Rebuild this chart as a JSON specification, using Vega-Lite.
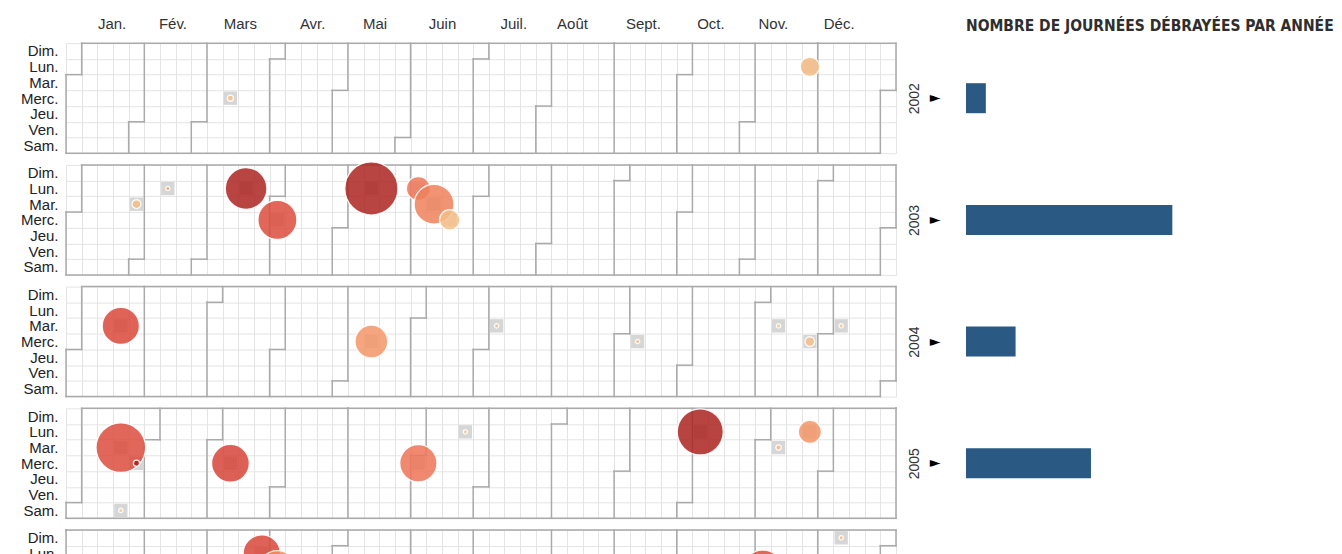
{
  "$schema": "https://vega.github.io/schema/vega-lite/v6.json",
  "background": "white",
  "padding": {"left": 20, "top": 16.2, "right": 5, "bottom": 0},
  "config": {"view": {"stroke": null}, "font": "Liberation Sans"},
  "datasets": {
    "journees": [
      {"annee": 2002, "journees": 4},
      {"annee": 2003, "journees": 41.6},
      {"annee": 2004, "journees": 10},
      {"annee": 2005, "journees": 25.2}
    ],
    "etiquettes_mois": [
      {"mois": "Jan.", "semaine": 2.94},
      {"mois": "Fév.", "semaine": 6.83},
      {"mois": "Mars", "semaine": 11.14},
      {"mois": "Avr.", "semaine": 15.75},
      {"mois": "Mai", "semaine": 19.73},
      {"mois": "Juin", "semaine": 24.04},
      {"mois": "Juil.", "semaine": 28.59},
      {"mois": "Août", "semaine": 32.34},
      {"mois": "Sept.", "semaine": 36.87},
      {"mois": "Oct.", "semaine": 41.18},
      {"mois": "Nov.", "semaine": 45.17},
      {"mois": "Déc.", "semaine": 49.37}
    ],
    "bords": [
      {"annee": 2002, "debut": 1, "fin_haut": 53, "fin_bas": 52},
      {"annee": 2003, "debut": 1, "fin_haut": 53, "fin_bas": 52},
      {"annee": 2004, "debut": 1, "fin_haut": 53, "fin_bas": 52},
      {"annee": 2005, "debut": 1, "fin_haut": 53, "fin_bas": 53},
      {"annee": 2006, "debut": 0, "fin_haut": 53, "fin_bas": 52}
    ],
    "mois_debut": [
      {"annee": 2002, "mois": 1, "col_bas": 0, "col_haut": 1, "jour": 2},
      {"annee": 2002, "mois": 2, "col_bas": 4, "col_haut": 5, "jour": 5},
      {"annee": 2002, "mois": 3, "col_bas": 8, "col_haut": 9, "jour": 5},
      {"annee": 2002, "mois": 4, "col_bas": 13, "col_haut": 14, "jour": 1},
      {"annee": 2002, "mois": 5, "col_bas": 17, "col_haut": 18, "jour": 3},
      {"annee": 2002, "mois": 6, "col_bas": 21, "col_haut": 22, "jour": 6},
      {"annee": 2002, "mois": 7, "col_bas": 26, "col_haut": 27, "jour": 1},
      {"annee": 2002, "mois": 8, "col_bas": 30, "col_haut": 31, "jour": 4},
      {"annee": 2002, "mois": 9, "col_bas": 35, "col_haut": 35, "jour": 0},
      {"annee": 2002, "mois": 10, "col_bas": 39, "col_haut": 40, "jour": 2},
      {"annee": 2002, "mois": 11, "col_bas": 43, "col_haut": 44, "jour": 5},
      {"annee": 2002, "mois": 12, "col_bas": 48, "col_haut": 48, "jour": 0},
      {"annee": 2002, "mois": 13, "col_bas": 52, "col_haut": 53, "jour": 3},
      {"annee": 2003, "mois": 1, "col_bas": 0, "col_haut": 1, "jour": 3},
      {"annee": 2003, "mois": 2, "col_bas": 4, "col_haut": 5, "jour": 6},
      {"annee": 2003, "mois": 3, "col_bas": 8, "col_haut": 9, "jour": 6},
      {"annee": 2003, "mois": 4, "col_bas": 13, "col_haut": 14, "jour": 2},
      {"annee": 2003, "mois": 5, "col_bas": 17, "col_haut": 18, "jour": 4},
      {"annee": 2003, "mois": 6, "col_bas": 22, "col_haut": 22, "jour": 0},
      {"annee": 2003, "mois": 7, "col_bas": 26, "col_haut": 27, "jour": 2},
      {"annee": 2003, "mois": 8, "col_bas": 30, "col_haut": 31, "jour": 5},
      {"annee": 2003, "mois": 9, "col_bas": 35, "col_haut": 36, "jour": 1},
      {"annee": 2003, "mois": 10, "col_bas": 39, "col_haut": 40, "jour": 3},
      {"annee": 2003, "mois": 11, "col_bas": 43, "col_haut": 44, "jour": 6},
      {"annee": 2003, "mois": 12, "col_bas": 48, "col_haut": 49, "jour": 1},
      {"annee": 2003, "mois": 13, "col_bas": 52, "col_haut": 53, "jour": 4},
      {"annee": 2004, "mois": 1, "col_bas": 0, "col_haut": 1, "jour": 4},
      {"annee": 2004, "mois": 2, "col_bas": 5, "col_haut": 5, "jour": 0},
      {"annee": 2004, "mois": 3, "col_bas": 9, "col_haut": 10, "jour": 1},
      {"annee": 2004, "mois": 4, "col_bas": 13, "col_haut": 14, "jour": 4},
      {"annee": 2004, "mois": 5, "col_bas": 17, "col_haut": 18, "jour": 6},
      {"annee": 2004, "mois": 6, "col_bas": 22, "col_haut": 23, "jour": 2},
      {"annee": 2004, "mois": 7, "col_bas": 26, "col_haut": 27, "jour": 4},
      {"annee": 2004, "mois": 8, "col_bas": 31, "col_haut": 31, "jour": 0},
      {"annee": 2004, "mois": 9, "col_bas": 35, "col_haut": 36, "jour": 3},
      {"annee": 2004, "mois": 10, "col_bas": 39, "col_haut": 40, "jour": 5},
      {"annee": 2004, "mois": 11, "col_bas": 44, "col_haut": 45, "jour": 1},
      {"annee": 2004, "mois": 12, "col_bas": 48, "col_haut": 49, "jour": 3},
      {"annee": 2004, "mois": 13, "col_bas": 52, "col_haut": 53, "jour": 6},
      {"annee": 2005, "mois": 1, "col_bas": 0, "col_haut": 1, "jour": 6},
      {"annee": 2005, "mois": 2, "col_bas": 5, "col_haut": 6, "jour": 2},
      {"annee": 2005, "mois": 3, "col_bas": 9, "col_haut": 10, "jour": 2},
      {"annee": 2005, "mois": 4, "col_bas": 13, "col_haut": 14, "jour": 5},
      {"annee": 2005, "mois": 5, "col_bas": 18, "col_haut": 18, "jour": 0},
      {"annee": 2005, "mois": 6, "col_bas": 22, "col_haut": 23, "jour": 3},
      {"annee": 2005, "mois": 7, "col_bas": 26, "col_haut": 27, "jour": 5},
      {"annee": 2005, "mois": 8, "col_bas": 31, "col_haut": 32, "jour": 1},
      {"annee": 2005, "mois": 9, "col_bas": 35, "col_haut": 36, "jour": 4},
      {"annee": 2005, "mois": 10, "col_bas": 39, "col_haut": 40, "jour": 6},
      {"annee": 2005, "mois": 11, "col_bas": 44, "col_haut": 45, "jour": 2},
      {"annee": 2005, "mois": 12, "col_bas": 48, "col_haut": 49, "jour": 4},
      {"annee": 2005, "mois": 13, "col_bas": 53, "col_haut": 53, "jour": 0},
      {"annee": 2006, "mois": 1, "col_bas": 0, "col_haut": 0, "jour": 0},
      {"annee": 2006, "mois": 2, "col_bas": 4, "col_haut": 5, "jour": 3},
      {"annee": 2006, "mois": 3, "col_bas": 8, "col_haut": 9, "jour": 3},
      {"annee": 2006, "mois": 4, "col_bas": 12, "col_haut": 13, "jour": 6},
      {"annee": 2006, "mois": 5, "col_bas": 17, "col_haut": 18, "jour": 1},
      {"annee": 2006, "mois": 6, "col_bas": 21, "col_haut": 22, "jour": 4},
      {"annee": 2006, "mois": 7, "col_bas": 25, "col_haut": 26, "jour": 6},
      {"annee": 2006, "mois": 8, "col_bas": 30, "col_haut": 31, "jour": 2},
      {"annee": 2006, "mois": 9, "col_bas": 34, "col_haut": 35, "jour": 5},
      {"annee": 2006, "mois": 10, "col_bas": 39, "col_haut": 39, "jour": 0},
      {"annee": 2006, "mois": 11, "col_bas": 43, "col_haut": 44, "jour": 3},
      {"annee": 2006, "mois": 12, "col_bas": 47, "col_haut": 48, "jour": 5},
      {"annee": 2006, "mois": 13, "col_bas": 52, "col_haut": 53, "jour": 1}
    ],
    "greves": [
      {"annee": 2002, "date": "2002-03-13", "semaine": 10, "jour": 3, "ampleur": 12, "intensite": 5},
      {"annee": 2002, "date": "2002-11-25", "semaine": 47, "jour": 1, "ampleur": 121, "intensite": 8},
      {"annee": 2003, "date": "2003-01-28", "semaine": 4, "jour": 2, "ampleur": 25, "intensite": 8},
      {"annee": 2003, "date": "2003-02-10", "semaine": 6, "jour": 1, "ampleur": 5, "intensite": 30},
      {"annee": 2003, "date": "2003-03-17", "semaine": 11, "jour": 1, "ampleur": 552, "intensite": 96},
      {"annee": 2003, "date": "2003-04-02", "semaine": 13, "jour": 3, "ampleur": 484, "intensite": 72},
      {"annee": 2003, "date": "2003-05-12", "semaine": 19, "jour": 1, "ampleur": 900, "intensite": 96},
      {"annee": 2003, "date": "2003-06-02", "semaine": 22, "jour": 1, "ampleur": 182, "intensite": 48},
      {"annee": 2003, "date": "2003-06-10", "semaine": 23, "jour": 2, "ampleur": 506, "intensite": 42},
      {"annee": 2003, "date": "2003-06-18", "semaine": 24, "jour": 3, "ampleur": 132, "intensite": 6},
      {"annee": 2004, "date": "2004-01-20", "semaine": 3, "jour": 2, "ampleur": 441, "intensite": 74},
      {"annee": 2004, "date": "2004-05-12", "semaine": 19, "jour": 3, "ampleur": 342, "intensite": 27},
      {"annee": 2004, "date": "2004-07-06", "semaine": 27, "jour": 2, "ampleur": 6, "intensite": 5},
      {"annee": 2004, "date": "2004-09-08", "semaine": 36, "jour": 3, "ampleur": 6, "intensite": 5},
      {"annee": 2004, "date": "2004-11-09", "semaine": 45, "jour": 2, "ampleur": 6, "intensite": 0},
      {"annee": 2004, "date": "2004-11-24", "semaine": 47, "jour": 3, "ampleur": 30, "intensite": 6},
      {"annee": 2004, "date": "2004-12-07", "semaine": 49, "jour": 2, "ampleur": 6, "intensite": 0},
      {"annee": 2005, "date": "2005-01-18", "semaine": 3, "jour": 2, "ampleur": 784, "intensite": 72},
      {"annee": 2005, "date": "2005-01-22", "semaine": 3, "jour": 6, "ampleur": 6, "intensite": 0},
      {"annee": 2005, "date": "2005-01-26", "semaine": 4, "jour": 3, "ampleur": 12, "intensite": 100},
      {"annee": 2005, "date": "2005-03-09", "semaine": 10, "jour": 3, "ampleur": 454, "intensite": 76},
      {"annee": 2005, "date": "2005-06-01", "semaine": 22, "jour": 3, "ampleur": 441, "intensite": 50},
      {"annee": 2005, "date": "2005-06-20", "semaine": 25, "jour": 1, "ampleur": 6, "intensite": 0},
      {"annee": 2005, "date": "2005-10-03", "semaine": 40, "jour": 1, "ampleur": 676, "intensite": 97},
      {"annee": 2005, "date": "2005-11-08", "semaine": 45, "jour": 2, "ampleur": 9, "intensite": 8},
      {"annee": 2005, "date": "2005-11-21", "semaine": 47, "jour": 1, "ampleur": 169, "intensite": 28},
      {"annee": 2006, "date": "2006-03-27", "semaine": 12, "jour": 1, "ampleur": 441, "intensite": 75},
      {"annee": 2006, "date": "2006-04-04", "semaine": 13, "jour": 2, "ampleur": 441, "intensite": 33},
      {"annee": 2006, "date": "2006-11-07", "semaine": 44, "jour": 2, "ampleur": 471, "intensite": 72},
      {"annee": 2006, "date": "2006-12-10", "semaine": 49, "jour": 0, "ampleur": 6, "intensite": 6}
    ]
  },
  "columns": 2,
  "bounds": "flush",
  "align": "each",
  "spacing": {"row": 11.7, "column": 70},
  "concat": [
    {
      "width": 830, "height": 110,
      "resolve": {"scale": {"x": "independent", "y": "independent"}},
      "layer": [
        {
          "data": {"name": "greves"},
          "transform": [{"filter": "datum.annee == 2002"}],
          "mark": {"type": "rect", "color": "#d6d6d6"},
          "encoding": {
            "x": {"field": "semaine", "type": "ordinal", "scale": {"domain": [0,1,2,3,4,5,6,7,8,9,10,11,12,13,14,15,16,17,18,19,20,21,22,23,24,25,26,27,28,29,30,31,32,33,34,35,36,37,38,39,40,41,42,43,44,45,46,47,48,49,50,51,52], "paddingInner": 0.15, "paddingOuter": 0.075}, "axis": null},
            "y": {"field": "jour", "type": "ordinal", "scale": {"domain": [0,1,2,3,4,5,6], "paddingInner": 0.15, "paddingOuter": 0.075}, "axis": null}
          }
        },
        {
          "layer": [
            {
              "data": {"name": "mois_debut"},
              "transform": [{"filter": "datum.annee == 2002"}],
              "mark": {"type": "rule", "color": "#aaaaaa", "strokeWidth": 1.5, "strokeCap": "square"},
              "encoding": {
                "x": {"field": "col_bas", "type": "quantitative", "scale": {"domain": [0, 53], "nice": false, "zero": false}, "axis": {"title": null, "grid": true, "gridColor": "#e4e4e4", "tickCount": 53, "labels": false, "ticks": false, "domain": false}},
                "y": {"field": "jour", "type": "quantitative", "scale": {"domain": [0, 7], "nice": false, "reverse": true}, "axis": {"title": null, "grid": true, "gridColor": "#e4e4e4", "tickCount": 7, "ticks": false, "domain": false, "labelExpr": "datum.value < 7 ? ['Dim.','Lun.','Mar.','Merc.','Jeu.','Ven.','Sam.'][datum.value] : ''", "labelOffset": 7.8, "labelPadding": 8, "labelFontSize": 15, "labelColor": "#222", "labelOverlap": false, "labelFlush": false, "labelBound": false, "labelBaseline": "middle"}},
                "y2": {"datum": 7}
              }
            },
            {
              "data": {"name": "mois_debut"},
              "transform": [{"filter": "datum.annee == 2002"}],
              "mark": {"type": "rule", "color": "#aaaaaa", "strokeWidth": 1.5, "strokeCap": "square"},
              "encoding": {"x": {"field": "col_bas", "type": "quantitative"}, "x2": {"field": "col_haut"}, "y": {"field": "jour", "type": "quantitative"}}
            },
            {
              "data": {"name": "mois_debut"},
              "transform": [{"filter": "datum.annee == 2002"}],
              "mark": {"type": "rule", "color": "#aaaaaa", "strokeWidth": 1.5, "strokeCap": "square"},
              "encoding": {"x": {"field": "col_haut", "type": "quantitative"}, "y": {"field": "jour", "type": "quantitative"}, "y2": {"datum": 0}}
            },
            {
              "data": {"name": "bords"},
              "transform": [{"filter": "datum.annee == 2002"}],
              "mark": {"type": "rule", "color": "#aaaaaa", "strokeWidth": 1.5, "strokeCap": "square"},
              "encoding": {"x": {"field": "debut", "type": "quantitative"}, "x2": {"field": "fin_haut"}, "y": {"datum": 0}}
            },
            {
              "data": {"name": "bords"},
              "transform": [{"filter": "datum.annee == 2002"}],
              "mark": {"type": "rule", "color": "#aaaaaa", "strokeWidth": 1.5, "strokeCap": "square"},
              "encoding": {"x": {"field": "fin_bas", "type": "quantitative"}, "x2": {"datum": 0}, "y": {"datum": 7}}
            },
            {
              "data": {"name": "etiquettes_mois"},
              "mark": {"type": "text", "fontSize": 15, "color": "#333", "align": "center", "baseline": "middle"},
              "encoding": {
                "x": {"field": "semaine", "type": "quantitative"},
                "y": {"datum": -1.22},
                "text": {"field": "mois"}
              }
            }
          ]
        },
        {
          "data": {"name": "greves"},
          "transform": [{"filter": "datum.annee == 2002"}],
          "mark": {"type": "point", "shape": "circle", "filled": true, "stroke": "white", "strokeWidth": 1.3, "fillOpacity": 0.85, "strokeOpacity": 0.9},
          "encoding": {
            "x": {"field": "semaine", "type": "ordinal", "scale": {"domain": [0,1,2,3,4,5,6,7,8,9,10,11,12,13,14,15,16,17,18,19,20,21,22,23,24,25,26,27,28,29,30,31,32,33,34,35,36,37,38,39,40,41,42,43,44,45,46,47,48,49,50,51,52], "paddingInner": 0.15, "paddingOuter": 0.075}, "axis": null},
            "y": {"field": "jour", "type": "ordinal", "scale": {"domain": [0,1,2,3,4,5,6], "paddingInner": 0.15, "paddingOuter": 0.075}, "axis": null},
            "size": {"field": "ampleur", "type": "quantitative", "scale": {"domain": [0, 1000], "range": [0, 3141.6]}, "legend": null},
            "color": {"field": "intensite", "type": "quantitative", "scale": {"domain": [0, 25, 50, 75, 100], "range": ["#f8cd95", "#f49a6b", "#ed7457", "#d9463a", "#a51e1e"]}, "legend": null}
          }
        }
      ]
    },
    {
      "width": 372, "height": 110,
      "data": {"name": "journees"},
      "transform": [{"filter": "datum.annee == 2002"}],
      "title": {"text": "NOMBRE DE JOURNÉES DÉBRAYÉES PAR ANNÉE", "anchor": "start", "frame": "group", "font": "DejaVu Sans Condensed", "fontSize": 15.5, "fontWeight": "bold", "color": "#2e2e2e", "offset": 9},
      "mark": {"type": "bar", "color": "#2a5a83", "height": 30},
      "encoding": {
        "y": {"field": "annee", "type": "nominal", "axis": {"title": "2002", "titleFontSize": 14, "titleFontWeight": "normal", "titleColor": "#333", "titlePadding": 8, "labelExpr": "'►'", "labelFont": "DejaVu Sans", "labelFontSize": 14, "labelColor": "#000", "labelPadding": 26, "ticks": false, "domain": false}},
        "x": {"field": "journees", "type": "quantitative", "scale": {"domain": [0, 75]}, "axis": null}
      }
    },
    {
      "width": 830, "height": 110,
      "resolve": {"scale": {"x": "independent", "y": "independent"}},
      "layer": [
        {
          "data": {"name": "greves"},
          "transform": [{"filter": "datum.annee == 2003"}],
          "mark": {"type": "rect", "color": "#d6d6d6"},
          "encoding": {
            "x": {"field": "semaine", "type": "ordinal", "scale": {"domain": [0,1,2,3,4,5,6,7,8,9,10,11,12,13,14,15,16,17,18,19,20,21,22,23,24,25,26,27,28,29,30,31,32,33,34,35,36,37,38,39,40,41,42,43,44,45,46,47,48,49,50,51,52], "paddingInner": 0.15, "paddingOuter": 0.075}, "axis": null},
            "y": {"field": "jour", "type": "ordinal", "scale": {"domain": [0,1,2,3,4,5,6], "paddingInner": 0.15, "paddingOuter": 0.075}, "axis": null}
          }
        },
        {
          "layer": [
            {
              "data": {"name": "mois_debut"},
              "transform": [{"filter": "datum.annee == 2003"}],
              "mark": {"type": "rule", "color": "#aaaaaa", "strokeWidth": 1.5, "strokeCap": "square"},
              "encoding": {
                "x": {"field": "col_bas", "type": "quantitative", "scale": {"domain": [0, 53], "nice": false, "zero": false}, "axis": {"title": null, "grid": true, "gridColor": "#e4e4e4", "tickCount": 53, "labels": false, "ticks": false, "domain": false}},
                "y": {"field": "jour", "type": "quantitative", "scale": {"domain": [0, 7], "nice": false, "reverse": true}, "axis": {"title": null, "grid": true, "gridColor": "#e4e4e4", "tickCount": 7, "ticks": false, "domain": false, "labelExpr": "datum.value < 7 ? ['Dim.','Lun.','Mar.','Merc.','Jeu.','Ven.','Sam.'][datum.value] : ''", "labelOffset": 7.8, "labelPadding": 8, "labelFontSize": 15, "labelColor": "#222", "labelOverlap": false, "labelFlush": false, "labelBound": false, "labelBaseline": "middle"}},
                "y2": {"datum": 7}
              }
            },
            {
              "data": {"name": "mois_debut"},
              "transform": [{"filter": "datum.annee == 2003"}],
              "mark": {"type": "rule", "color": "#aaaaaa", "strokeWidth": 1.5, "strokeCap": "square"},
              "encoding": {"x": {"field": "col_bas", "type": "quantitative"}, "x2": {"field": "col_haut"}, "y": {"field": "jour", "type": "quantitative"}}
            },
            {
              "data": {"name": "mois_debut"},
              "transform": [{"filter": "datum.annee == 2003"}],
              "mark": {"type": "rule", "color": "#aaaaaa", "strokeWidth": 1.5, "strokeCap": "square"},
              "encoding": {"x": {"field": "col_haut", "type": "quantitative"}, "y": {"field": "jour", "type": "quantitative"}, "y2": {"datum": 0}}
            },
            {
              "data": {"name": "bords"},
              "transform": [{"filter": "datum.annee == 2003"}],
              "mark": {"type": "rule", "color": "#aaaaaa", "strokeWidth": 1.5, "strokeCap": "square"},
              "encoding": {"x": {"field": "debut", "type": "quantitative"}, "x2": {"field": "fin_haut"}, "y": {"datum": 0}}
            },
            {
              "data": {"name": "bords"},
              "transform": [{"filter": "datum.annee == 2003"}],
              "mark": {"type": "rule", "color": "#aaaaaa", "strokeWidth": 1.5, "strokeCap": "square"},
              "encoding": {"x": {"field": "fin_bas", "type": "quantitative"}, "x2": {"datum": 0}, "y": {"datum": 7}}
            }
          ]
        },
        {
          "data": {"name": "greves"},
          "transform": [{"filter": "datum.annee == 2003"}],
          "mark": {"type": "point", "shape": "circle", "filled": true, "stroke": "white", "strokeWidth": 1.3, "fillOpacity": 0.85, "strokeOpacity": 0.9},
          "encoding": {
            "x": {"field": "semaine", "type": "ordinal", "scale": {"domain": [0,1,2,3,4,5,6,7,8,9,10,11,12,13,14,15,16,17,18,19,20,21,22,23,24,25,26,27,28,29,30,31,32,33,34,35,36,37,38,39,40,41,42,43,44,45,46,47,48,49,50,51,52], "paddingInner": 0.15, "paddingOuter": 0.075}, "axis": null},
            "y": {"field": "jour", "type": "ordinal", "scale": {"domain": [0,1,2,3,4,5,6], "paddingInner": 0.15, "paddingOuter": 0.075}, "axis": null},
            "size": {"field": "ampleur", "type": "quantitative", "scale": {"domain": [0, 1000], "range": [0, 3141.6]}, "legend": null},
            "color": {"field": "intensite", "type": "quantitative", "scale": {"domain": [0, 25, 50, 75, 100], "range": ["#f8cd95", "#f49a6b", "#ed7457", "#d9463a", "#a51e1e"]}, "legend": null}
          }
        }
      ]
    },
    {
      "width": 372, "height": 110,
      "data": {"name": "journees"},
      "transform": [{"filter": "datum.annee == 2003"}],
      "mark": {"type": "bar", "color": "#2a5a83", "height": 30},
      "encoding": {
        "y": {"field": "annee", "type": "nominal", "axis": {"title": "2003", "titleFontSize": 14, "titleFontWeight": "normal", "titleColor": "#333", "titlePadding": 8, "labelExpr": "'►'", "labelFont": "DejaVu Sans", "labelFontSize": 14, "labelColor": "#000", "labelPadding": 26, "ticks": false, "domain": false}},
        "x": {"field": "journees", "type": "quantitative", "scale": {"domain": [0, 75]}, "axis": null}
      }
    },
    {
      "width": 830, "height": 110,
      "resolve": {"scale": {"x": "independent", "y": "independent"}},
      "layer": [
        {
          "data": {"name": "greves"},
          "transform": [{"filter": "datum.annee == 2004"}],
          "mark": {"type": "rect", "color": "#d6d6d6"},
          "encoding": {
            "x": {"field": "semaine", "type": "ordinal", "scale": {"domain": [0,1,2,3,4,5,6,7,8,9,10,11,12,13,14,15,16,17,18,19,20,21,22,23,24,25,26,27,28,29,30,31,32,33,34,35,36,37,38,39,40,41,42,43,44,45,46,47,48,49,50,51,52], "paddingInner": 0.15, "paddingOuter": 0.075}, "axis": null},
            "y": {"field": "jour", "type": "ordinal", "scale": {"domain": [0,1,2,3,4,5,6], "paddingInner": 0.15, "paddingOuter": 0.075}, "axis": null}
          }
        },
        {
          "layer": [
            {
              "data": {"name": "mois_debut"},
              "transform": [{"filter": "datum.annee == 2004"}],
              "mark": {"type": "rule", "color": "#aaaaaa", "strokeWidth": 1.5, "strokeCap": "square"},
              "encoding": {
                "x": {"field": "col_bas", "type": "quantitative", "scale": {"domain": [0, 53], "nice": false, "zero": false}, "axis": {"title": null, "grid": true, "gridColor": "#e4e4e4", "tickCount": 53, "labels": false, "ticks": false, "domain": false}},
                "y": {"field": "jour", "type": "quantitative", "scale": {"domain": [0, 7], "nice": false, "reverse": true}, "axis": {"title": null, "grid": true, "gridColor": "#e4e4e4", "tickCount": 7, "ticks": false, "domain": false, "labelExpr": "datum.value < 7 ? ['Dim.','Lun.','Mar.','Merc.','Jeu.','Ven.','Sam.'][datum.value] : ''", "labelOffset": 7.8, "labelPadding": 8, "labelFontSize": 15, "labelColor": "#222", "labelOverlap": false, "labelFlush": false, "labelBound": false, "labelBaseline": "middle"}},
                "y2": {"datum": 7}
              }
            },
            {
              "data": {"name": "mois_debut"},
              "transform": [{"filter": "datum.annee == 2004"}],
              "mark": {"type": "rule", "color": "#aaaaaa", "strokeWidth": 1.5, "strokeCap": "square"},
              "encoding": {"x": {"field": "col_bas", "type": "quantitative"}, "x2": {"field": "col_haut"}, "y": {"field": "jour", "type": "quantitative"}}
            },
            {
              "data": {"name": "mois_debut"},
              "transform": [{"filter": "datum.annee == 2004"}],
              "mark": {"type": "rule", "color": "#aaaaaa", "strokeWidth": 1.5, "strokeCap": "square"},
              "encoding": {"x": {"field": "col_haut", "type": "quantitative"}, "y": {"field": "jour", "type": "quantitative"}, "y2": {"datum": 0}}
            },
            {
              "data": {"name": "bords"},
              "transform": [{"filter": "datum.annee == 2004"}],
              "mark": {"type": "rule", "color": "#aaaaaa", "strokeWidth": 1.5, "strokeCap": "square"},
              "encoding": {"x": {"field": "debut", "type": "quantitative"}, "x2": {"field": "fin_haut"}, "y": {"datum": 0}}
            },
            {
              "data": {"name": "bords"},
              "transform": [{"filter": "datum.annee == 2004"}],
              "mark": {"type": "rule", "color": "#aaaaaa", "strokeWidth": 1.5, "strokeCap": "square"},
              "encoding": {"x": {"field": "fin_bas", "type": "quantitative"}, "x2": {"datum": 0}, "y": {"datum": 7}}
            }
          ]
        },
        {
          "data": {"name": "greves"},
          "transform": [{"filter": "datum.annee == 2004"}],
          "mark": {"type": "point", "shape": "circle", "filled": true, "stroke": "white", "strokeWidth": 1.3, "fillOpacity": 0.85, "strokeOpacity": 0.9},
          "encoding": {
            "x": {"field": "semaine", "type": "ordinal", "scale": {"domain": [0,1,2,3,4,5,6,7,8,9,10,11,12,13,14,15,16,17,18,19,20,21,22,23,24,25,26,27,28,29,30,31,32,33,34,35,36,37,38,39,40,41,42,43,44,45,46,47,48,49,50,51,52], "paddingInner": 0.15, "paddingOuter": 0.075}, "axis": null},
            "y": {"field": "jour", "type": "ordinal", "scale": {"domain": [0,1,2,3,4,5,6], "paddingInner": 0.15, "paddingOuter": 0.075}, "axis": null},
            "size": {"field": "ampleur", "type": "quantitative", "scale": {"domain": [0, 1000], "range": [0, 3141.6]}, "legend": null},
            "color": {"field": "intensite", "type": "quantitative", "scale": {"domain": [0, 25, 50, 75, 100], "range": ["#f8cd95", "#f49a6b", "#ed7457", "#d9463a", "#a51e1e"]}, "legend": null}
          }
        }
      ]
    },
    {
      "width": 372, "height": 110,
      "data": {"name": "journees"},
      "transform": [{"filter": "datum.annee == 2004"}],
      "mark": {"type": "bar", "color": "#2a5a83", "height": 30},
      "encoding": {
        "y": {"field": "annee", "type": "nominal", "axis": {"title": "2004", "titleFontSize": 14, "titleFontWeight": "normal", "titleColor": "#333", "titlePadding": 8, "labelExpr": "'►'", "labelFont": "DejaVu Sans", "labelFontSize": 14, "labelColor": "#000", "labelPadding": 26, "ticks": false, "domain": false}},
        "x": {"field": "journees", "type": "quantitative", "scale": {"domain": [0, 75]}, "axis": null}
      }
    },
    {
      "width": 830, "height": 110,
      "resolve": {"scale": {"x": "independent", "y": "independent"}},
      "layer": [
        {
          "data": {"name": "greves"},
          "transform": [{"filter": "datum.annee == 2005"}],
          "mark": {"type": "rect", "color": "#d6d6d6"},
          "encoding": {
            "x": {"field": "semaine", "type": "ordinal", "scale": {"domain": [0,1,2,3,4,5,6,7,8,9,10,11,12,13,14,15,16,17,18,19,20,21,22,23,24,25,26,27,28,29,30,31,32,33,34,35,36,37,38,39,40,41,42,43,44,45,46,47,48,49,50,51,52], "paddingInner": 0.15, "paddingOuter": 0.075}, "axis": null},
            "y": {"field": "jour", "type": "ordinal", "scale": {"domain": [0,1,2,3,4,5,6], "paddingInner": 0.15, "paddingOuter": 0.075}, "axis": null}
          }
        },
        {
          "layer": [
            {
              "data": {"name": "mois_debut"},
              "transform": [{"filter": "datum.annee == 2005"}],
              "mark": {"type": "rule", "color": "#aaaaaa", "strokeWidth": 1.5, "strokeCap": "square"},
              "encoding": {
                "x": {"field": "col_bas", "type": "quantitative", "scale": {"domain": [0, 53], "nice": false, "zero": false}, "axis": {"title": null, "grid": true, "gridColor": "#e4e4e4", "tickCount": 53, "labels": false, "ticks": false, "domain": false}},
                "y": {"field": "jour", "type": "quantitative", "scale": {"domain": [0, 7], "nice": false, "reverse": true}, "axis": {"title": null, "grid": true, "gridColor": "#e4e4e4", "tickCount": 7, "ticks": false, "domain": false, "labelExpr": "datum.value < 7 ? ['Dim.','Lun.','Mar.','Merc.','Jeu.','Ven.','Sam.'][datum.value] : ''", "labelOffset": 7.8, "labelPadding": 8, "labelFontSize": 15, "labelColor": "#222", "labelOverlap": false, "labelFlush": false, "labelBound": false, "labelBaseline": "middle"}},
                "y2": {"datum": 7}
              }
            },
            {
              "data": {"name": "mois_debut"},
              "transform": [{"filter": "datum.annee == 2005"}],
              "mark": {"type": "rule", "color": "#aaaaaa", "strokeWidth": 1.5, "strokeCap": "square"},
              "encoding": {"x": {"field": "col_bas", "type": "quantitative"}, "x2": {"field": "col_haut"}, "y": {"field": "jour", "type": "quantitative"}}
            },
            {
              "data": {"name": "mois_debut"},
              "transform": [{"filter": "datum.annee == 2005"}],
              "mark": {"type": "rule", "color": "#aaaaaa", "strokeWidth": 1.5, "strokeCap": "square"},
              "encoding": {"x": {"field": "col_haut", "type": "quantitative"}, "y": {"field": "jour", "type": "quantitative"}, "y2": {"datum": 0}}
            },
            {
              "data": {"name": "bords"},
              "transform": [{"filter": "datum.annee == 2005"}],
              "mark": {"type": "rule", "color": "#aaaaaa", "strokeWidth": 1.5, "strokeCap": "square"},
              "encoding": {"x": {"field": "debut", "type": "quantitative"}, "x2": {"field": "fin_haut"}, "y": {"datum": 0}}
            },
            {
              "data": {"name": "bords"},
              "transform": [{"filter": "datum.annee == 2005"}],
              "mark": {"type": "rule", "color": "#aaaaaa", "strokeWidth": 1.5, "strokeCap": "square"},
              "encoding": {"x": {"field": "fin_bas", "type": "quantitative"}, "x2": {"datum": 0}, "y": {"datum": 7}}
            }
          ]
        },
        {
          "data": {"name": "greves"},
          "transform": [{"filter": "datum.annee == 2005"}],
          "mark": {"type": "point", "shape": "circle", "filled": true, "stroke": "white", "strokeWidth": 1.3, "fillOpacity": 0.85, "strokeOpacity": 0.9},
          "encoding": {
            "x": {"field": "semaine", "type": "ordinal", "scale": {"domain": [0,1,2,3,4,5,6,7,8,9,10,11,12,13,14,15,16,17,18,19,20,21,22,23,24,25,26,27,28,29,30,31,32,33,34,35,36,37,38,39,40,41,42,43,44,45,46,47,48,49,50,51,52], "paddingInner": 0.15, "paddingOuter": 0.075}, "axis": null},
            "y": {"field": "jour", "type": "ordinal", "scale": {"domain": [0,1,2,3,4,5,6], "paddingInner": 0.15, "paddingOuter": 0.075}, "axis": null},
            "size": {"field": "ampleur", "type": "quantitative", "scale": {"domain": [0, 1000], "range": [0, 3141.6]}, "legend": null},
            "color": {"field": "intensite", "type": "quantitative", "scale": {"domain": [0, 25, 50, 75, 100], "range": ["#f8cd95", "#f49a6b", "#ed7457", "#d9463a", "#a51e1e"]}, "legend": null}
          }
        }
      ]
    },
    {
      "width": 372, "height": 110,
      "data": {"name": "journees"},
      "transform": [{"filter": "datum.annee == 2005"}],
      "mark": {"type": "bar", "color": "#2a5a83", "height": 30},
      "encoding": {
        "y": {"field": "annee", "type": "nominal", "axis": {"title": "2005", "titleFontSize": 14, "titleFontWeight": "normal", "titleColor": "#333", "titlePadding": 8, "labelExpr": "'►'", "labelFont": "DejaVu Sans", "labelFontSize": 14, "labelColor": "#000", "labelPadding": 26, "ticks": false, "domain": false}},
        "x": {"field": "journees", "type": "quantitative", "scale": {"domain": [0, 75]}, "axis": null}
      }
    },
    {
      "width": 830, "height": 110,
      "resolve": {"scale": {"x": "independent", "y": "independent"}},
      "layer": [
        {
          "data": {"name": "greves"},
          "transform": [{"filter": "datum.annee == 2006"}],
          "mark": {"type": "rect", "color": "#d6d6d6"},
          "encoding": {
            "x": {"field": "semaine", "type": "ordinal", "scale": {"domain": [0,1,2,3,4,5,6,7,8,9,10,11,12,13,14,15,16,17,18,19,20,21,22,23,24,25,26,27,28,29,30,31,32,33,34,35,36,37,38,39,40,41,42,43,44,45,46,47,48,49,50,51,52], "paddingInner": 0.15, "paddingOuter": 0.075}, "axis": null},
            "y": {"field": "jour", "type": "ordinal", "scale": {"domain": [0,1,2,3,4,5,6], "paddingInner": 0.15, "paddingOuter": 0.075}, "axis": null}
          }
        },
        {
          "layer": [
            {
              "data": {"name": "mois_debut"},
              "transform": [{"filter": "datum.annee == 2006"}],
              "mark": {"type": "rule", "color": "#aaaaaa", "strokeWidth": 1.5, "strokeCap": "square"},
              "encoding": {
                "x": {"field": "col_bas", "type": "quantitative", "scale": {"domain": [0, 53], "nice": false, "zero": false}, "axis": {"title": null, "grid": true, "gridColor": "#e4e4e4", "tickCount": 53, "labels": false, "ticks": false, "domain": false}},
                "y": {"field": "jour", "type": "quantitative", "scale": {"domain": [0, 7], "nice": false, "reverse": true}, "axis": {"title": null, "grid": true, "gridColor": "#e4e4e4", "tickCount": 7, "ticks": false, "domain": false, "labelExpr": "datum.value < 7 ? ['Dim.','Lun.','Mar.','Merc.','Jeu.','Ven.','Sam.'][datum.value] : ''", "labelOffset": 7.8, "labelPadding": 8, "labelFontSize": 15, "labelColor": "#222", "labelOverlap": false, "labelFlush": false, "labelBound": false, "labelBaseline": "middle"}},
                "y2": {"datum": 7}
              }
            },
            {
              "data": {"name": "mois_debut"},
              "transform": [{"filter": "datum.annee == 2006"}],
              "mark": {"type": "rule", "color": "#aaaaaa", "strokeWidth": 1.5, "strokeCap": "square"},
              "encoding": {"x": {"field": "col_bas", "type": "quantitative"}, "x2": {"field": "col_haut"}, "y": {"field": "jour", "type": "quantitative"}}
            },
            {
              "data": {"name": "mois_debut"},
              "transform": [{"filter": "datum.annee == 2006"}],
              "mark": {"type": "rule", "color": "#aaaaaa", "strokeWidth": 1.5, "strokeCap": "square"},
              "encoding": {"x": {"field": "col_haut", "type": "quantitative"}, "y": {"field": "jour", "type": "quantitative"}, "y2": {"datum": 0}}
            },
            {
              "data": {"name": "bords"},
              "transform": [{"filter": "datum.annee == 2006"}],
              "mark": {"type": "rule", "color": "#aaaaaa", "strokeWidth": 1.5, "strokeCap": "square"},
              "encoding": {"x": {"field": "debut", "type": "quantitative"}, "x2": {"field": "fin_haut"}, "y": {"datum": 0}}
            },
            {
              "data": {"name": "bords"},
              "transform": [{"filter": "datum.annee == 2006"}],
              "mark": {"type": "rule", "color": "#aaaaaa", "strokeWidth": 1.5, "strokeCap": "square"},
              "encoding": {"x": {"field": "fin_bas", "type": "quantitative"}, "x2": {"datum": 0}, "y": {"datum": 7}}
            }
          ]
        },
        {
          "data": {"name": "greves"},
          "transform": [{"filter": "datum.annee == 2006"}],
          "mark": {"type": "point", "shape": "circle", "filled": true, "stroke": "white", "strokeWidth": 1.3, "fillOpacity": 0.85, "strokeOpacity": 0.9},
          "encoding": {
            "x": {"field": "semaine", "type": "ordinal", "scale": {"domain": [0,1,2,3,4,5,6,7,8,9,10,11,12,13,14,15,16,17,18,19,20,21,22,23,24,25,26,27,28,29,30,31,32,33,34,35,36,37,38,39,40,41,42,43,44,45,46,47,48,49,50,51,52], "paddingInner": 0.15, "paddingOuter": 0.075}, "axis": null},
            "y": {"field": "jour", "type": "ordinal", "scale": {"domain": [0,1,2,3,4,5,6], "paddingInner": 0.15, "paddingOuter": 0.075}, "axis": null},
            "size": {"field": "ampleur", "type": "quantitative", "scale": {"domain": [0, 1000], "range": [0, 3141.6]}, "legend": null},
            "color": {"field": "intensite", "type": "quantitative", "scale": {"domain": [0, 25, 50, 75, 100], "range": ["#f8cd95", "#f49a6b", "#ed7457", "#d9463a", "#a51e1e"]}, "legend": null}
          }
        }
      ]
    }
  ]
}
